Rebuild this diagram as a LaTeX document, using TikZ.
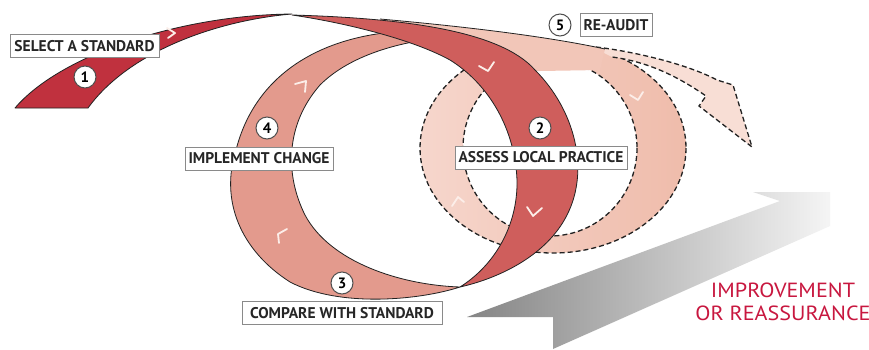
\documentclass[tikz,border=0pt]{standalone}
\usepackage{fontspec}
\setmainfont{PT Sans}
\newfontfamily\labfont{PT Sans}
\newfontfamily\outfont[FakeStretch=1.08]{PT Sans}
\definecolor{stripA}{HTML}{C0313E}
\definecolor{bandDark}{HTML}{CF5E5C}
\definecolor{bandLight}{HTML}{E39A8D}
\definecolor{ringPink}{HTML}{F6D6CC}
\definecolor{ringPinkR}{HTML}{EFBCAB}
\definecolor{arrowPink}{HTML}{F8DED5}
\definecolor{edgecol}{HTML}{222222}
\definecolor{chevcol}{HTML}{FCEEE9}
\definecolor{crimson}{HTML}{C8173F}
\definecolor{boxedge}{HTML}{8A8A8A}
\begin{document}
\begin{tikzpicture}[x=1pt,y=-1pt,
  ribbon/.style={draw=edgecol, line width=0.8pt, line join=round},
  dashedge/.style={draw=edgecol, line width=1.3pt, dash pattern=on 5pt off 3pt},
  chev/.style={draw=chevcol, line width=1.8pt, line cap=round, line join=round},
  labelbox/.style={draw=boxedge, line width=0.9pt, fill=white, font=\labfont\bfseries\fontsize{15.5}{17}\selectfont, text=black!85, inner sep=2pt, minimum height=23pt},
  stepnum/.style={circle, draw=edgecol!80, line width=1pt, fill=white, minimum size=22pt, inner sep=0pt, font=\labfont\bfseries\fontsize{15}{15}\selectfont},
  outcome/.style={font=\outfont\fontsize{20.5}{23}\selectfont, text=crimson, align=center}
]
\useasboundingbox (0,0) rectangle (869,349);
\fill[white] (0,0) rectangle (869,349);

% grey arrow
\shade[left color=black!48, right color=black!4] (467,317) -- (780,201) -- (753,192) -- (830,192) -- (830,226) -- (553,349) -- (553,317) -- cycle;

% dashed re-audit ring
\shade[even odd rule, left color=ringPink, right color=ringPinkR] (553,148) ellipse [x radius=133, y radius=105] (550,148) ellipse [x radius=87, y radius=88];
\draw[dashedge] (553,148) ellipse [x radius=133, y radius=105];
\draw[dashedge] (550,148) ellipse [x radius=87, y radius=88];

% dashed outgoing arrow
\fill[arrowPink] (590,46) .. controls (630,51) and (685,63) .. (717,80) -- (733,85) -- (752,147) -- (699,106) -- (706,96) .. controls (680,78) and (650,62) .. (612,57) -- cycle;
\draw[dashedge] (596,47) .. controls (630,51) and (685,63) .. (717,80) -- (733,85) -- (752,147) -- (699,106) -- (706,96) .. controls (680,78) and (650,62) .. (612,57);

% top of re-audit band
\fill[ringPink!40!ringPinkR] (380,19) .. controls (470,27) and (550,37) .. (605,49) -- (600,70) -- (480,72) -- cycle;
\draw[ribbon] (380,19) .. controls (470,27) and (550,37) .. (605,49);

% light band (steps 3 and 4)
\path[ribbon, fill=bandLight] (407,31) .. controls (320,35) and (255,75) .. (236,150) .. controls (220,200) and (240,250) .. (290,282) .. controls (340,308) and (420,300) .. (460,287) .. controls (400,285) and (330,262) .. (305,215) .. controls (285,175) and (285,125) .. (320,85) .. controls (350,55) and (400,42) .. (440,38) -- cycle;

% dark band (step 2)
\path[ribbon, fill=bandDark] (292,15) .. controls (400,18) and (500,30) .. (535,70) .. controls (575,110) and (590,170) .. (567,215) .. controls (547,255) and (500,278) .. (460,287) .. controls (495,265) and (518,225) .. (517,180) .. controls (515,130) and (490,85) .. (450,60) .. controls (410,38) and (340,22) .. (292,15) -- cycle;

% strip (step 1)
\path[ribbon, fill=stripA] (15,108) .. controls (60,55) and (180,15) .. (292,14) .. controls (220,20) and (130,50) .. (88,108) -- cycle;

% chevrons
\draw[chev] (167,28) -- (175,33) -- (168,38);
\draw[chev] (295,84) -- (306,81) -- (305,92);
\draw[chev] (287,229) -- (278,234) -- (279,243);
\draw[chev] (479,66) -- (488,71) -- (494,62);
\draw[chev] (527,207) -- (533,216) -- (542,208);
\draw[chev] (452,206) -- (458,197) -- (464,202);
\draw[chev] (630,95) -- (638,100) -- (643,92);

% labels
\node[labelbox, minimum width=149pt] (select) at (84.5,46) {SELECT A STANDARD};
\node[labelbox, minimum width=148pt] (implement) at (259,158.5) {IMPLEMENT CHANGE};
\node[labelbox, minimum width=72pt] (reaudit) at (616,25) {RE-AUDIT};
\node[labelbox, minimum width=172pt] (assess) at (541,157.5) {ASSESS LOCAL PRACTICE};
\node[labelbox, minimum width=200pt] (compare) at (342,313) {COMPARE WITH STANDARD};

\node[stepnum] (n1) at (85,77) {1};
\node[stepnum] (n2) at (540,128) {2};
\node[stepnum] (n3) at (342,283) {3};
\node[stepnum] (n4) at (267,128) {4};
\node[stepnum] (n5) at (560,25) {5};

\node[outcome] (outcome) at (783,302) {IMPROVEMENT\\OR REASSURANCE};
\end{tikzpicture}
\end{document}
